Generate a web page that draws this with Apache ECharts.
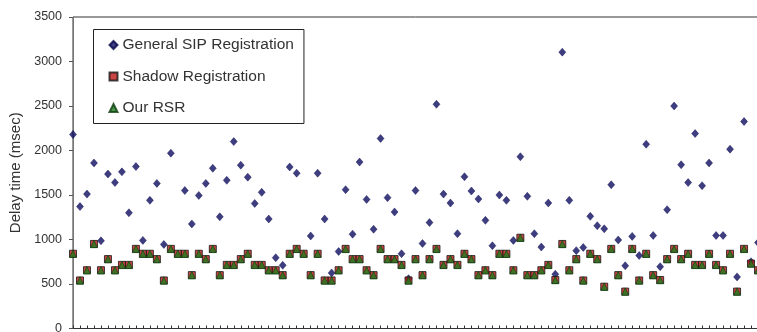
<!DOCTYPE html>
<html>
<head>
<meta charset="utf-8">
<script src="https://cdn.jsdelivr.net/npm/echarts@6/dist/echarts.min.js"></script>
<style>
  html, body { margin: 0; padding: 0; background: #fff; }
  #chart { width: 757px; height: 332px; }
</style>
</head>
<body>
<div id="chart"></div>
<script>
// values, one per registration run (index 0..98)
const seriesNames = ["General SIP Registration", "Shadow Registration", "Our RSR"]
const yTicks = [0, 500, 1000, 1500, 2000, 2500, 3000, 3500]

const generalSip = [
  2180, 1370, 1510, 1860, 985, 1735, 1640, 1760, 1300, 1820,
  990, 1440, 1630, 945, 1970, null, 1550, 1175, 1495, 1630,
  1800, 1255, 1665, 2100, 1835, 1700, 1405, 1530, 1230, 795,
  710, 1815, 1745, null, 1040, 1745, 1230, 625, 865, 1560,
  1060, 1870, 1450, 1115, 2135, 1470, 1310, 840, 560, 1550,
  955, 1190, 2520, 1510, 1410, 1065, 1705, 1545, 1455, 1215,
  930, 1500, 1440, 990, 1930, 1485, 1065, 915, 1410, 610,
  3105, 1440, 875, 910, 1260, 1155, 1120, 1615, 995, 705,
  1035, 820, 2070, 1045, 695, 1335, 2500, 1840, 1640, 2190,
  1605, 1860, 1045, 1045, 2015, 580, 2325, 750, 965
]

const shadowReg = [
  840, 540, 655, 950, 655, 780, 655, 715, 715, 895,
  840, 840, 780, 540, 895, 840, 840, 600, 840, 780,
  895, 600, 715, 715, 780, 840, 715, 715, 655, 655,
  600, 840, 895, 840, 600, 840, 540, 540, 655, 895,
  780, 780, 655, 600, 895, 780, 780, 715, 540, 780,
  600, 780, 895, 715, 780, 715, 840, 780, 600, 655,
  600, 840, 840, 655, 1020, 600, 600, 655, 715, 545,
  950, 655, 780, 540, 840, 780, 470, 895, 600, 415,
  895, 540, 840, 600, 545, 780, 895, 780, 840, 715,
  715, 840, 715, 655, 840, 415, 895, 730, 655
]

const ourRsr = [
  840, 540, 655, 950, 655, 780, 655, 715, 715, 895,
  840, 840, 780, 540, 895, 840, 840, 600, 840, 780,
  895, 600, 715, 715, 780, 840, 715, 715, 655, 655,
  600, 840, 895, 840, 600, 840, 540, 540, 655, 895,
  780, 780, 655, 600, 895, 780, 780, 715, 540, 780,
  600, 780, 895, 715, 780, 715, 840, 780, 600, 655,
  600, 840, 840, 655, 1020, 600, 600, 655, 715, 545,
  950, 655, 780, 540, 840, 780, 470, 895, 600, 415,
  895, 540, 840, 600, 545, 780, 895, 780, 840, 715,
  715, 840, 715, 655, 840, 415, 895, 730, 655
]

const toPoints = (arr) => arr.map((v, i) => [i, v])

const chart = echarts.init(document.getElementById("chart"), null, { renderer: "canvas" })

const font = "'Liberation Sans', Arial, sans-serif"

const option = {
  animation: false,
  backgroundColor: "#fff",
  textStyle: { fontFamily: font },
  grid: {
    left: 73,
    top: 17,
    width: 699,
    height: 311.5,
    containLabel: false,
    outerBoundsMode: "none",
    show: true,
    borderColor: "#333",
    borderWidth: 1,
  },
  legend: {
    orient: "vertical",
    left: 93.5,
    top: 29.5,
    padding: [7.5, 10, 7.5, 15],
    itemGap: 15.5,
    itemWidth: 8,
    itemHeight: 8,
    borderColor: "#222",
    borderWidth: 1,
    backgroundColor: "#fff",
    data: seriesNames,
    textStyle: { fontSize: 15.5, lineHeight: 16, color: "#333", fontFamily: font },
  },
  xAxis: {
    type: "value",
    min: 0,
    max: 100,
    interval: 1,
    axisLine: { lineStyle: { color: "#333", width: 1 } },
    axisTick: { inside: true, length: 3, lineStyle: { color: "#333" } },
    axisLabel: { show: false },
    splitLine: { show: false },
  },
  yAxis: {
    type: "value",
    min: yTicks[0],
    max: yTicks[yTicks.length - 1],
    interval: 500,
    name: "Delay time (msec)",
    nameLocation: "middle",
    nameGap: 48,
    nameTextStyle: { fontSize: 15, color: "#333", fontFamily: font },
    axisLine: { show: true, lineStyle: { color: "#777" } },
    axisTick: { show: true, length: 4, lineStyle: { color: "#555" } },
    axisLabel: { fontSize: 12.5, color: "#333", margin: 11, fontFamily: font, formatter: (v) => String(v) },
    splitLine: { show: false },
  },
  series: [
    {
      name: seriesNames[0],
      type: "scatter",
      symbol: "diamond",
      symbolSize: [7, 8],
      itemStyle: { color: "#0c0c60", borderColor: "#06064a", borderWidth: 0.5 },
      data: toPoints(generalSip),
    },
    {
      name: seriesNames[1],
      type: "scatter",
      symbol: "rect",
      symbolSize: 7,
      itemStyle: { color: "#c01515", borderColor: "#151515", borderWidth: 1 },
      data: toPoints(shadowReg),
    },
    {
      name: seriesNames[2],
      type: "scatter",
      symbol: "triangle",
      symbolSize: [7, 7.5],
      itemStyle: { color: "#1f7a1f", borderColor: "#0d3d0d", borderWidth: 0.8 },
      data: toPoints(ourRsr),
    },
  ],
}

chart.setOption(option)
</script>
</body>
</html>
